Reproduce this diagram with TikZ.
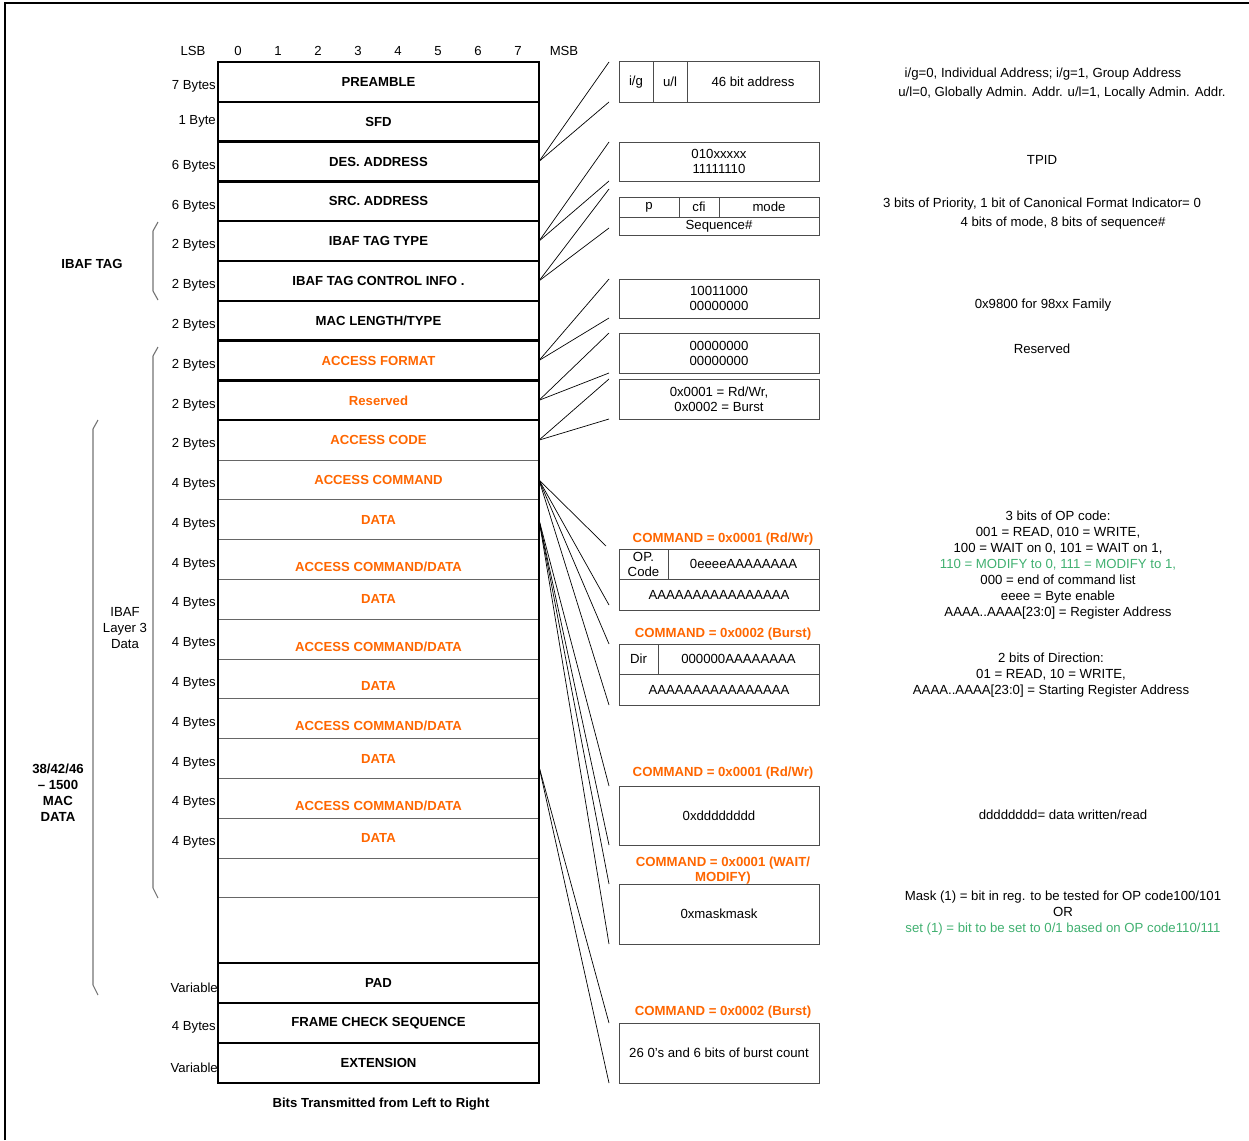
\documentclass[tikz,border=0pt,11pt]{standalone}
\usepackage{fontspec}
\setmainfont{Liberation Sans}[Scale=1.2]
\usetikzlibrary{positioning,calc}
\definecolor{accent}{RGB}{255,102,0}
\definecolor{modgreen}{RGB}{64,176,112}

\begin{document}
\begin{tikzpicture}[x=1pt,y=-1pt,
field/.style = {rectangle, minimum width=321pt, minimum height=39.8pt, inner sep=0pt,
                outer sep=0pt, draw=black, line width=2.4pt, font=\bfseries},
thinfield/.style = {field, draw=black!60, line width=1pt},
acc/.style = {text=accent},
low/.style = {text height=24pt, text depth=0pt},
bytes/.style = {inner sep=1pt, yshift=-4.5pt},
bitbox/.style = {rectangle, draw=black!70, line width=1pt, inner sep=0pt, outer sep=0pt,
                 align=center, font=\fontsize{11}{15}\selectfont},
cmdtitle/.style = {text=accent, font=\fontsize{11}{15}\selectfont\bfseries, align=center, inner sep=0pt},
remark/.style = {align=center, inner sep=0pt, font=\fontsize{11}{16}\selectfont},
rnote/.style = {remark, yshift=-2pt},
fan/.style = {draw, line width=0.7pt},
bracket/.style = {draw=black!55, line width=1.1pt}]

\useasboundingbox (0,0) rectangle (1249,1140);
\draw[line width=2pt] (5,1140) -- (5,3) -- (1249,3);

% bit numbers
\node (lsb) at (193,51) {LSB};
\node (c0) at (238,51) {0};
\node (c1) at (278,51) {1};
\node (c2) at (318,51) {2};
\node (c3) at (358,51) {3};
\node (c4) at (398,51) {4};
\node (c5) at (438,51) {5};
\node (c6) at (478,51) {6};
\node (c7) at (518,51) {7};
\node (msb) at (564,51) {MSB};

% frame fields
\node[field] (pre) at (378.5,81.9) {PREAMBLE};
\node[field, below=0pt of pre] (sfd) {SFD};
\node[field, below=0pt of sfd] (des) {DES. ADDRESS};
\node[field, below=0pt of des] (src) {SRC. ADDRESS};
\node[field, below=0pt of src] (ttype) {IBAF TAG TYPE};
\node[field, below=0pt of ttype] (tctl) {IBAF TAG CONTROL INFO .};
\node[field, below=0pt of tctl] (mlen) {MAC LENGTH/TYPE};
\node[field, acc, below=0pt of mlen] (afmt) {ACCESS FORMAT};
\node[field, acc, below=0pt of afmt] (res) {Reserved};
\node[thinfield, acc, below=0pt of res] (acode) {ACCESS CODE};
\node[thinfield, acc, below=0pt of acode] (acmd) {ACCESS COMMAND};
\node[thinfield, acc, below=0pt of acmd] (d1) {DATA};
\node[thinfield, acc, low, below=0pt of d1] (acd1) {ACCESS COMMAND/DATA};
\node[thinfield, acc, below=0pt of acd1] (d2) {DATA};
\node[thinfield, acc, low, below=0pt of d2] (acd2) {ACCESS COMMAND/DATA};
\node[thinfield, acc, low, below=0pt of acd2] (d3) {DATA};
\node[thinfield, acc, low, below=0pt of d3] (acd3) {ACCESS COMMAND/DATA};
\node[thinfield, acc, below=0pt of acd3] (d4) {DATA};
\node[thinfield, acc, low, below=0pt of d4] (acd4) {ACCESS COMMAND/DATA};
\node[thinfield, acc, below=0pt of acd4] (d5) {DATA};
\node[thinfield, below=0pt of d5] (e1) {};
\node[thinfield, minimum height=65pt, below=0pt of e1] (e2) {};
\node[field, minimum height=40pt, below=0pt of e2] (pad) {PAD};
\node[field, minimum height=40pt, below=0pt of pad] (fcs) {FRAME CHECK SEQUENCE};
\node[field, minimum height=40pt, below=0pt of fcs] (ext) {EXTENSION};
\draw[line width=2.4pt] (pre.north west) rectangle (ext.south east);
\draw[line width=2.4pt] (res.south west) -- (res.south east);

% sizes
\node[bytes, left=1pt of pre] (bpre) {7 Bytes};
\node[inner sep=1pt, left=1pt of sfd] (bsfd) {1 Byte};
\node[bytes, left=1pt of des] (bdes) {6 Bytes};
\node[bytes, left=1pt of src] (bsrc) {6 Bytes};
\node[bytes, left=1pt of ttype] (bttype) {2 Bytes};
\node[bytes, left=1pt of tctl] (btctl) {2 Bytes};
\node[bytes, left=1pt of mlen] (bmlen) {2 Bytes};
\node[bytes, left=1pt of afmt] (bafmt) {2 Bytes};
\node[bytes, left=1pt of res] (bres) {2 Bytes};
\node[bytes, left=1pt of acode] (bacode) {2 Bytes};
\node[bytes, left=1pt of acmd] (bacmd) {4 Bytes};
\node[bytes, left=1pt of d1] (bd1) {4 Bytes};
\node[bytes, left=1pt of acd1] (bacd1) {4 Bytes};
\node[bytes, left=1pt of d2] (bd2) {4 Bytes};
\node[bytes, left=1pt of acd2] (bacd2) {4 Bytes};
\node[bytes, left=1pt of d3] (bd3) {4 Bytes};
\node[bytes, left=1pt of acd3] (bacd3) {4 Bytes};
\node[bytes, left=1pt of d4] (bd4) {4 Bytes};
\node[bytes, left=1pt of acd4] (bacd4) {4 Bytes};
\node[bytes, left=1pt of d5] (bd5) {4 Bytes};
\node[bytes, left=-1pt of pad] (bpad) {Variable};
\node[bytes, left=1pt of fcs] (bfcs) {4 Bytes};
\node[bytes, left=-1pt of ext] (bext) {Variable};

% groups
\draw[bracket] (158,222) -- (153,231) -- (153,291) -- (158,300);
\node[font=\bfseries] (tag) at (92,264) {IBAF TAG};
\draw[bracket] (158,347) -- (153,356) -- (153,888) -- (158,898);
\node[remark] (layer) at (125,628) {IBAF\\Layer 3\\Data};
\draw[bracket] (98,420) -- (93,429) -- (93,985) -- (98,995);
\node[remark, font=\fontsize{11}{16}\selectfont\bfseries] (mac) at (58,793) {38/42/46\\-- 1500\\MAC\\DATA};

\node[font=\bfseries] (caption) at (381,1104) {Bits Transmitted from Left to Right};

% detail boxes
\node[bitbox, minimum width=34pt, minimum height=40pt] (ig) at (636,82) {i/g};
\node[bitbox, minimum width=34pt, minimum height=40pt, right=0pt of ig] (ul) {u/l};
\node[bitbox, minimum width=132pt, minimum height=40pt, right=0pt of ul] (addr) {46 bit address};

\node[bitbox, minimum width=200pt, minimum height=39pt] (tpid) at (719,161.5) {010xxxxx\\11111110};

\node[bitbox, minimum width=60pt, minimum height=20pt] (pri) at (649,207) {p};
\node[bitbox, minimum width=40pt, minimum height=20pt, right=0pt of pri] (cfi) {cfi};
\node[bitbox, minimum width=100pt, minimum height=20pt, right=0pt of cfi] (mode) {mode};
\node[bitbox, minimum width=200pt, minimum height=18pt, anchor=north west] (seq) at (pri.south west) {Sequence\#};

\node[bitbox, minimum width=200pt, minimum height=39pt] (fam) at (719,298.5) {10011000\\00000000};
\node[bitbox, minimum width=200pt, minimum height=40pt] (rsv) at (719,353) {00000000\\00000000};
\node[bitbox, minimum width=200pt, minimum height=40pt] (acc) at (719,399) {0x0001 = Rd/Wr,\\0x0002 = Burst};

\node[bitbox, minimum width=49pt, minimum height=30pt] (opc) at (643.5,564) {OP.\\Code};
\node[bitbox, minimum width=151pt, minimum height=30pt, right=0pt of opc] (opv) {0eeeeAAAAAAAA};
\node[bitbox, minimum width=200pt, minimum height=31pt, anchor=north west] (oaddr) at (opc.south west) {AAAAAAAAAAAAAAAA};

\node[bitbox, minimum width=39pt, minimum height=30pt] (dir) at (638.5,659) {Dir};
\node[bitbox, minimum width=161pt, minimum height=30pt, right=0pt of dir] (dirv) {000000AAAAAAAA};
\node[bitbox, minimum width=200pt, minimum height=31pt, anchor=north west] (baddr) at (dir.south west) {AAAAAAAAAAAAAAAA};

\node[bitbox, minimum width=200pt, minimum height=59pt] (wd) at (719,815.5) {0xdddddddd};
\node[bitbox, minimum width=200pt, minimum height=60pt] (mask) at (719,914) {0xmaskmask};
\node[bitbox, minimum width=200pt, minimum height=60pt] (cnt) at (719,1053) {26 0's and 6 bits of burst count};

\node[cmdtitle] (t1) at (723,539) {COMMAND = 0x0001 (Rd/Wr)};
\node[cmdtitle] (t2) at (723,634) {COMMAND = 0x0002 (Burst)};
\node[cmdtitle] (t3) at (723,773) {COMMAND = 0x0001 (Rd/Wr)};
\node[cmdtitle] (t4) at (723,870.5) {COMMAND = 0x0001 (WAIT/\\MODIFY)};
\node[cmdtitle] (t5) at (723,1012) {COMMAND = 0x0002 (Burst)};

% fan lines
\path[fan] (des.east) -- ([xshift=-10pt]ig.north west);
\path[fan] (des.east) -- ([xshift=-10pt]ig.south west);
\path[fan] (ttype.east) -- ([xshift=-10pt]tpid.north west);
\path[fan] (ttype.east) -- ([xshift=-10pt]tpid.south west);
\path[fan] (tctl.east) -- ([shift={(-10,-8)}]pri.north west);
\path[fan] (tctl.east) -- ([shift={(-10,-7)}]seq.south west);
\path[fan] (afmt.east) -- ([xshift=-10pt]fam.north west);
\path[fan] (afmt.east) -- ([xshift=-10pt]fam.south west);
\path[fan] (res.east) -- ([xshift=-10pt]rsv.north west);
\path[fan] (res.east) -- ([xshift=-10pt]rsv.south west);
\path[fan] (acode.east) -- ([xshift=-10pt]acc.north west);
\path[fan] (acode.east) -- ([xshift=-10pt]acc.south west);
\path[fan] (acmd.east) -- ([shift={(-13,-3)}]opc.north west);
\path[fan] (acmd.east) -- ([shift={(-10,-5)}]oaddr.south west);
\path[fan] (acmd.east) -- ([xshift=-10pt]dir.north west);
\path[fan] (acmd.east) -- ([xshift=-10pt]baddr.south west);
\path[fan] (d1.east) -- ([xshift=-10pt]wd.north west);
\path[fan] (d1.east) -- ([xshift=-10pt]wd.south west);
\path[fan] (d1.east) -- ([xshift=-10pt]mask.north west);
\path[fan] (d1.east) -- ([xshift=-10pt]mask.south west);
\path[fan] ([yshift=-8pt]d4.east) -- ([xshift=-10pt]cnt.north west);
\path[fan] ([yshift=-8pt]d4.east) -- ([xshift=-10pt]cnt.south west);

% notes
\node[rnote] (n1) at (1043,72) {i/g=0, Individual Address; i/g=1, Group Address};
\node[rnote] (n2) at (1062,91) {u/l=0, Globally Admin. Addr. u/l=1, Locally Admin. Addr.};
\node[rnote] (n3) at (1042,158) {TPID};
\node[rnote] (n4) at (1042,202) {3 bits of Priority, 1 bit of Canonical Format Indicator= 0};
\node[rnote] (n5) at (1063,221) {4 bits of mode, 8 bits of sequence\#};
\node[rnote] (n6) at (1043,303) {0x9800 for 98xx Family};
\node[rnote] (n7) at (1042,347) {Reserved};
\node[rnote] (n8) at (1058,563.5) {3 bits of OP code:\\001 = READ, 010 = WRITE,\\100 = WAIT on 0, 101 = WAIT on 1,\\
  {\color{modgreen}110 = MODIFY to 0, 111 = MODIFY to 1,}\\000 = end of command list\\eeee = Byte enable\\
  AAAA..AAAA[23:0] = Register Address};
\node[rnote] (n9) at (1051,673) {2 bits of Direction:\\01 = READ, 10 = WRITE,\\AAAA..AAAA[23:0] = Starting Register Address};
\node[rnote] (n10) at (1063,813) {dddddddd= data written/read};
\node[rnote] (n11) at (1063,911) {Mask (1) = bit in reg. to be tested for OP code100/101\\OR\\
  {\color{modgreen}set (1) = bit to be set to 0/1 based on OP code110/111}};
\end{tikzpicture}
\end{document}
